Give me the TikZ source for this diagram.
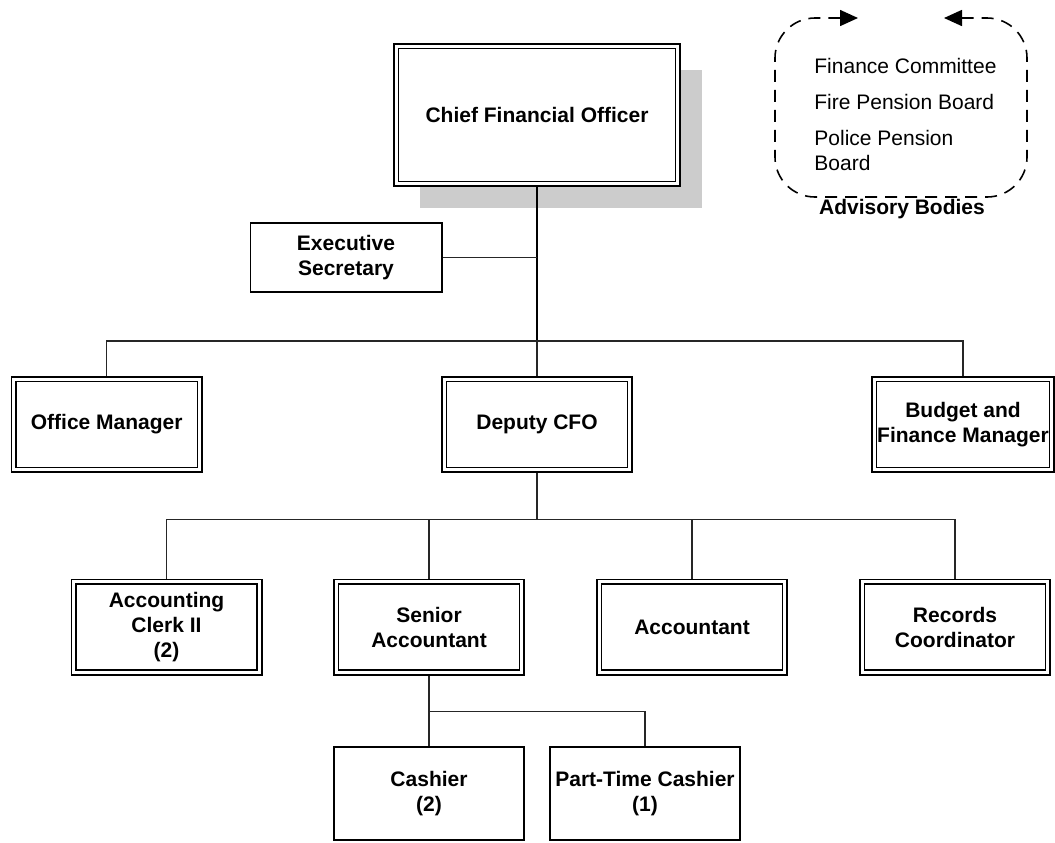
\documentclass[tikz,border=0pt]{standalone}
\usepackage{fontspec}
\setmainfont{Liberation Sans}
\usetikzlibrary{positioning,arrows.meta,shadows}
\newcommand{\orgfont}{\fontsize{10.5}{12.5}\selectfont}
\tikzset{
dbox/.style={rectangle, draw=black, double=white, double distance=1.5pt, line width=0.8pt,
             outer sep=1.55pt, inner sep=0pt, align=center, font=\orgfont\bfseries},
rowbox/.style={dbox, minimum width=92.9pt, minimum height=45.4pt},
sbox/.style={rectangle, draw=black, line width=0.8pt, inner sep=0pt,
             align=center, font=\orgfont\bfseries},
bus/.style={draw=black!85, line width=0.55pt},
trunk/.style={draw=black, line width=1pt},
advloop/.style={draw=black, line width=0.8pt, dash pattern=on 6pt off 4pt,
                rounded corners=20pt, {Triangle[length=9pt,width=8pt]}-{Triangle[length=9pt,width=8pt]}}
}
\begin{document}
\begin{tikzpicture}[x=0.5pt, y=-0.5pt, align=center]
\useasboundingbox (0,0) rectangle (1055,842);

%Top of the chart
\node[dbox, fill=white, minimum width=140.9pt, minimum height=68.9pt,
      drop shadow={shadow xshift=12pt, shadow yshift=-12pt, fill=black!20, opacity=1}]
      (cfo) at(537,115) {Chief Financial Officer};
\node[sbox, minimum width=95.7pt, minimum height=34.7pt] (exec) at(346,257.5) {Executive\\ Secretary};

%First row
\node[rowbox] (om) at(106.7,424.5) {Office Manager};
\node[rowbox] (deputy) at(537,424.5) {Deputy CFO};
\node[rowbox, minimum width=88.9pt] (budget) at(963,424.5) {Budget and\\ Finance Manager};

%Second row
\node[rowbox] (clerk) at(166.5,627) {Accounting\\ Clerk II\\ (2)};
\node[rowbox] (senior) at(429,627) {Senior\\ Accountant};
\node[rowbox] (acct) at(692,627) {Accountant};
\node[rowbox] (records) at(955,627) {Records\\ Coordinator};

%Cashiers
\node[sbox, minimum width=95.2pt, minimum height=46.7pt] (cashier) at(429,793.5) {Cashier\\ (2)};
\node[sbox, minimum width=95.2pt, minimum height=46.7pt] (ptcashier) at(645,793.5) {Part-Time Cashier\\ (1)};

%Connectors
\draw[trunk] (cfo.south) -- ++(0,154);
\draw[bus] (exec.east) -- (exec.east -| cfo.south);
\draw[bus] (om.north) -- ++(0,-35) -| (budget.north);
\draw[bus] (deputy.north) -- ++(0,-35);
\draw[bus] (deputy.south) -- ++(0,47);
\draw[bus] (clerk.north) -- ++(0,-59) -| (records.north);
\draw[bus] (senior.north) -- ++(0,-59);
\draw[bus] (acct.north) -- ++(0,-59);
\draw[bus] (senior.south) -- (cashier.north);
\draw[bus] (senior.south) ++(0,36) -| (ptcashier.north);

%Advisory bodies
\node[inner sep=0pt, anchor=north west, align=left, font=\orgfont] (advisory) at(814,58)
     {Finance Committee\\[5.5pt] Fire Pension Board\\[5.5pt] Police Pension\\ Board};
\node[font=\orgfont\bfseries] (advlabel) at(902,209) {Advisory Bodies};
\draw[advloop] (944,18) -- (1027,18) -- (1027,197) -- (775,197) -- (775,18) -- (858,18);
\end{tikzpicture}
\end{document}
